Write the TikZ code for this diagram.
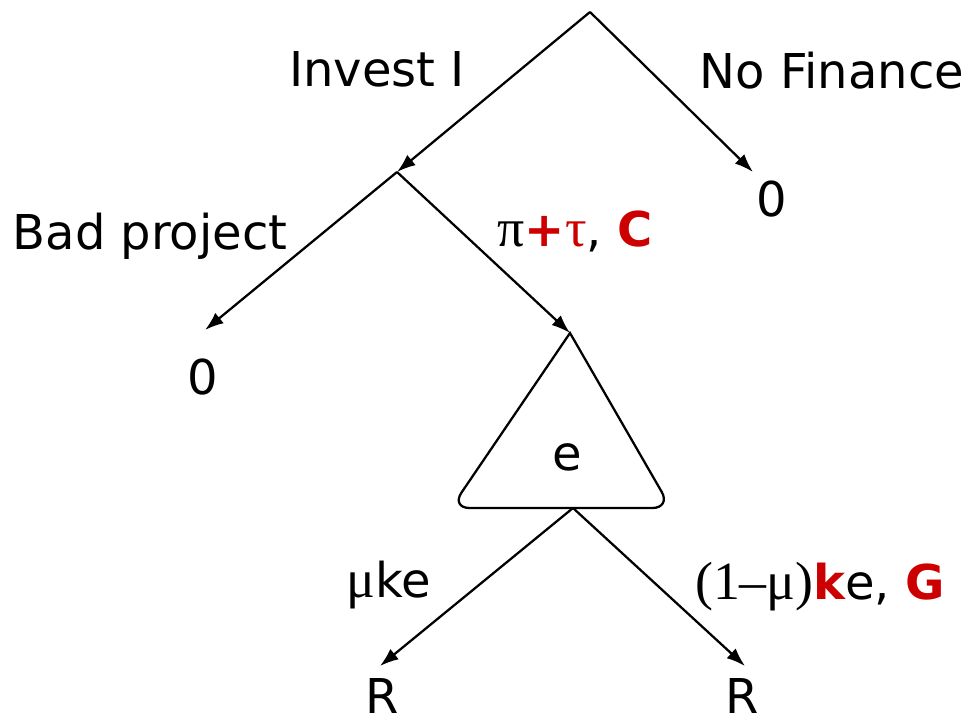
\documentclass[tikz,border=0pt]{standalone}
\usepackage{fontspec}
\setmainfont{DejaVu Sans}
\newfontfamily\serifgr[Scale=1.12]{Liberation Serif}
\usetikzlibrary{positioning, arrows.meta, calc}
\definecolor{payred}{HTML}{CC0000}

\tikzset{
  branch/.style={-{Latex[length=14pt,width=10pt]}, line width=1.7pt},
  lbl/.style={font=\fontsize{36}{43}\selectfont, inner sep=0pt, anchor=base},
}

\begin{document}
\begin{tikzpicture}[x=0.75pt, y=-0.75pt]
  \useasboundingbox (0,0) rectangle (970,727);

  % tree points
  \coordinate (root) at (590,12);
  \coordinate (invest) at (397,172);
  \coordinate (nofin) at (753,172);
  \coordinate (bad) at (205,330);
  \coordinate (apex) at (570,333);
  \coordinate (base) at (573,508);
  \coordinate (lowl) at (380,666);
  \coordinate (lowr) at (745,666);

  % chance triangle
  \draw[line width=1.7pt] (apex) [rounded corners=14pt] -- (671,508) -- (451,508) [sharp corners] -- cycle;
  \node[lbl] (effort) at (567,470) {e};

  % branches
  \draw[branch] (root) -- (invest);
  \draw[branch] (root) -- (nofin);
  \draw[branch] (invest) -- (bad);
  \draw[branch] (invest) -- (apex);
  \draw[branch] (base) -- (lowl);
  \draw[branch] (base) -- (lowr);

  % branch labels
  \node[lbl] (invlbl) at (377,87) {Invest I};
  \node[lbl] (nflbl) at (832,89) {No Finance};
  \node[lbl] (badlbl) at (150,249) {Bad project};
  \node[lbl] (goodlbl) at (575,247) {{\serifgr π}\textcolor{payred}{{\bfseries +}{\serifgr τ}}, \textcolor{payred}{\bfseries C}};
  \node[lbl] (mulbl) at (389,597) {{\serifgr μ}ke};
  \node[lbl] (onemulbl) at (820,599) {{\serifgr (1–μ)}\textcolor{payred}{\bfseries k}e, \textcolor{payred}{\bfseries G}};

  % payoffs
  \node[lbl] (pay1) at (772,217) {0};
  \node[lbl] (pay2) at (203,394) {0};
  \node[lbl] (pay3) at (382,713) {R};
  \node[lbl] (pay4) at (742,713) {R};
\end{tikzpicture}
\end{document}
